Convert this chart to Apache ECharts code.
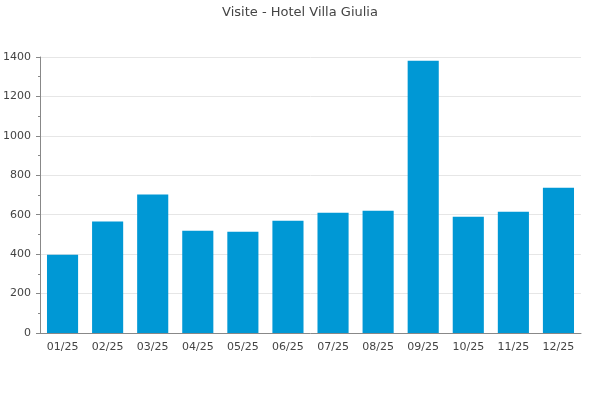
<!DOCTYPE html>
<html>
<head>
<meta charset="utf-8">
<script src="https://cdn.jsdelivr.net/npm/echarts@6/dist/echarts.min.js"></script>
<style>html,body{margin:0;padding:0;background:#fff}#c{width:600px;height:400px}</style>
</head>
<body>
<div id="c"></div>
<script>
var categories = ['01/25','02/25','03/25','04/25','05/25','06/25','07/25','08/25','09/25','10/25','11/25','12/25'];
var visits = [397, 565, 702, 519, 514, 570, 610, 620, 1381, 590, 615, 737];
var yTicks = [0, 200, 400, 600, 800, 1000, 1200, 1400];

var chart = echarts.init(document.getElementById('c'), null, {renderer: 'canvas'});
chart.setOption({
  animation: false,
  backgroundColor: '#ffffff',
  textStyle: {fontFamily: 'DejaVu Sans'},
  title: {
    text: 'Visite - Hotel Villa Giulia',
    left: 'center',
    top: 1,
    textStyle: {fontFamily: 'DejaVu Sans', fontSize: 13, fontWeight: 'normal', color: '#444444'}
  },
  grid: {left: 40, right: 19, top: 57, bottom: 67, containLabel: false, outerBoundsMode: 'none'},
  xAxis: {
    type: 'category',
    data: categories,
    axisLine: {lineStyle: {color: '#888888', width: 1}},
    axisTick: {show: false},
    axisLabel: {color: '#444444', fontSize: 11, margin: 9, fontFamily: 'DejaVu Sans'}
  },
  yAxis: {
    type: 'value',
    min: yTicks[0],
    max: yTicks[yTicks.length - 1],
    interval: 200,
    axisLine: {show: true, lineStyle: {color: '#888888', width: 1}},
    axisTick: {show: true, length: 4, lineStyle: {color: '#888888'}},
    minorTick: {show: true, splitNumber: 2, length: 2, lineStyle: {color: '#888888'}},
    axisLabel: {color: '#444444', fontSize: 11, margin: 9, fontFamily: 'DejaVu Sans',
      formatter: function (v) { return String(v); }},
    splitLine: {show: true, lineStyle: {color: '#e6e6e6', width: 1}}
  },
  series: [{
    type: 'bar',
    data: visits,
    barWidth: '69%',
    itemStyle: {color: '#0098d5'}
  }]
});
</script>
</body>
</html>
